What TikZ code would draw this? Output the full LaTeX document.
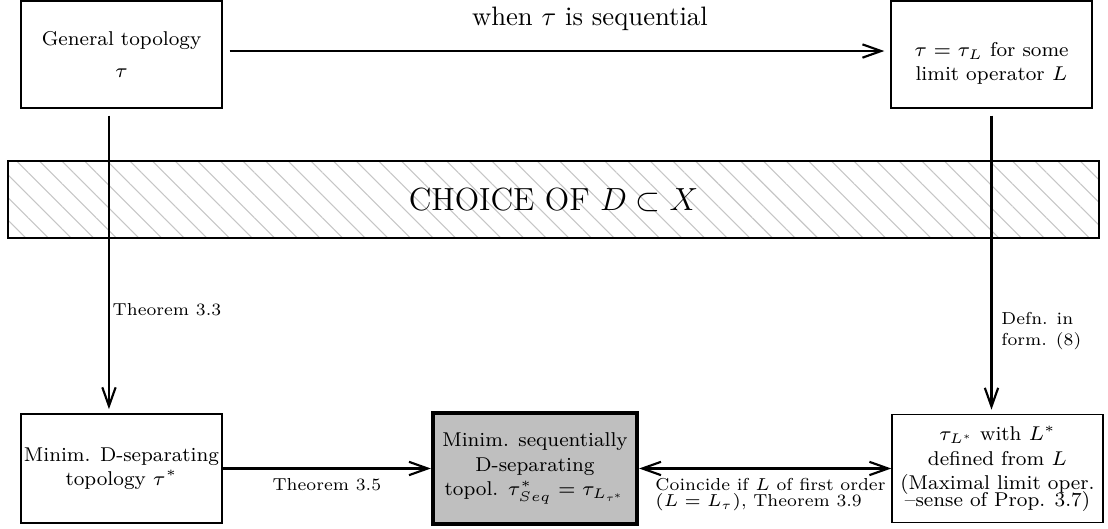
\documentclass[tikz,border=0pt]{standalone}
\usepackage{fix-cm}
\usepackage{amsmath,amssymb}
\usetikzlibrary{arrows.meta,patterns.meta}

\begin{document}
\begin{tikzpicture}[
    x=0.375pt, y=-0.375pt,
    box/.style={rectangle, draw, semithick, minimum width=75.4pt, minimum height=40pt, align=center,
                font=\fontsize{7.5}{9.2}\selectfont, inner sep=1pt},
    mainbox/.style={box, ultra thick, fill=gray!50, minimum width=76.5pt, minimum height=41.6pt},
    lbl/.style={font=\fontsize{6.5}{7.8}\selectfont, align=left},
    >={Straight Barb[length=7pt,width=5pt]}
]
    \useasboundingbox (0,0) rectangle (1108,529);

    % Choice band
    \node[draw, thick, pattern={Lines[angle=-45,distance=6pt,line width=0.4pt]}, pattern color=gray!45,
          minimum width=409.1pt, minimum height=28.9pt, font=\large] (band) at (553.5,199.5) {CHOICE OF $D\subset X$};

    % Top row
    \node[box] (gen) at (121.5,54.5) {General topology\\[2.5pt] $\tau$};
    \node[box] (lim) at (991.5,54.5) {\rule{0pt}{12pt}$\tau=\tau_L$ for some\\limit operator $L$};

    % Bottom row
    \node[box, minimum height=40.9pt] (dsep) at (121.5,468.5) {Minim. D-separating\\topology $\tau^*$};
    \node[mainbox] (seq) at (535,468.5) {Minim. sequentially\\D-separating\\topol. $\tau^*_{Seq}=\tau_{L_{\tau^*}}$};
    \node[box, minimum width=79.1pt, minimum height=40.5pt] (maxl) at (997.5,468.5) {$\tau_{L^*}$ with $L^*$\\defined from $L$\\(Maximal limit oper.\\[-3pt]--sense of Prop. 3.7)};

    % Links
    \draw[->, thick, shorten <=2.5pt, shorten >=2.2pt] ([yshift=1.3pt]gen.east) -- ([yshift=1.3pt]lim.west)
        node[pos=0.55, above=4pt, font=\normalsize] {when $\tau$ is sequential};
    \draw[->, thick, shorten <=2.6pt, shorten >=1.5pt] ([xshift=-4.7pt]gen.south) -- ([xshift=-4.7pt]dsep.north)
        node[pos=0.66, right, lbl, inner sep=1pt] {Theorem 3.3};
    \draw[->, thick, shorten <=2.6pt, shorten >=1.5pt] (lim.south) -- (lim.south |- maxl.north)
        node[pos=0.73, right, lbl] {Defn. in\\form. (8)};
    \draw[->, thick] (dsep.east) -- (seq.west) node[midway, below, lbl] {Theorem 3.5};
    \draw[<->, thick] (seq.east) -- (maxl.west)
        node[midway, below, lbl, xshift=2pt] {Coincide if $L$ of first order\\[-2pt]$(L=L_\tau)$, Theorem 3.9};
\end{tikzpicture}
\end{document}
